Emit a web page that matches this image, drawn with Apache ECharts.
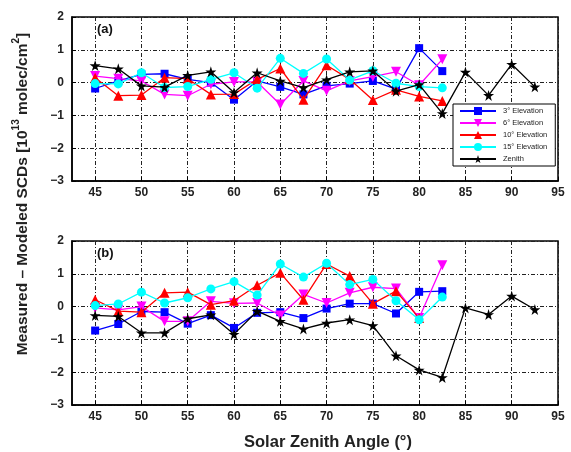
<!DOCTYPE html>
<html>
<head>
<meta charset="utf-8">
<script src="https://cdn.jsdelivr.net/npm/echarts@6/dist/echarts.min.js"></script>
<style>
html,body{margin:0;padding:0;background:#fff;}
#c{width:571px;height:452px;}
</style>
</head>
<body>
<div id="c"></div>
<script>
// ---- data ----
const sza = [45,47.5,50,52.5,55,57.5,60,62.5,65,67.5,70,72.5,75,77.5,80,82.5];
const szaZenith = [45,47.5,50,52.5,55,57.5,60,62.5,65,67.5,70,72.5,75,77.5,80,82.5,85,87.5,90,92.5];
const xTicks = [45,50,55,60,65,70,75,80,85,90,95];
const yTicks = [-3,-2,-1,0,1,2];
const seriesNames = ['3° Elevation','6° Elevation','10° Elevation','15° Elevation','Zenith'];

// panel (a)
const elev3a  = [-0.18, 0.05, 0.25, 0.27, 0.10, 0.00, -0.52, 0.05, -0.13, -0.36, -0.10, -0.03, 0.05, -0.20, 1.05, 0.35];
const elev6a  = [0.20, 0.12, 0.05, -0.36, -0.40, -0.05, 0.02, 0.02, -0.67, 0.05, -0.25, 0.05, 0.18, 0.33, -0.08, 0.71];
const elev10a = [0.15, -0.40, -0.38, 0.15, 0.12, -0.36, -0.35, 0.10, 0.43, -0.52, 0.53, 0.10, -0.53, -0.22, -0.42, -0.56];
const elev15a = [-0.03, -0.04, 0.30, -0.15, -0.12, 0.10, 0.30, -0.17, 0.74, 0.28, 0.72, 0.08, 0.36, -0.02, -0.12, -0.16];
const zenithA = [0.52, 0.42, -0.10, -0.14, 0.22, 0.33, -0.30, 0.30, 0.05, -0.15, 0.09, 0.33, 0.36, -0.26, -0.06, -0.94, 0.32, -0.39, 0.56, -0.13];

// panel (b)
const elev3b  = [-0.73, -0.53, -0.15, -0.17, -0.52, -0.26, -0.65, -0.19, -0.17, -0.35, -0.06, 0.09, 0.09, -0.21, 0.45, 0.47];
const elev6b  = [-0.04, -0.10, 0.00, -0.45, -0.45, 0.16, 0.10, 0.11, -0.27, 0.37, 0.11, 0.42, 0.59, 0.55, -0.35, 1.26];
const elev10b = [0.21, -0.14, -0.17, 0.42, 0.44, 0.06, 0.18, 0.65, 1.03, 0.21, 1.30, 0.93, 0.09, 0.47, -0.35, null];
const elev15b = [0.03, 0.08, 0.44, 0.11, 0.27, 0.54, 0.76, 0.35, 1.30, 0.90, 1.32, 0.67, 0.83, 0.18, -0.40, 0.29];
const zenithB = [-0.27, -0.30, -0.80, -0.80, -0.37, -0.25, -0.84, -0.14, -0.45, -0.68, -0.50, -0.40, -0.58, -1.50, -1.93, -2.16, -0.04, -0.24, 0.32, -0.09];

// ---- styles ----
const FONT = '"Liberation Sans", Arial, sans-serif';
const colors = ['#0000ff','#ff00ff','#ff0000','#00ffff','#000000'];
const STAR = 'path://M50,0 L61,35 L98,35 L68,57 L79,91 L50,70 L21,91 L32,57 L2,35 L39,35 Z';
const symbols = ['rect','triangle','triangle','circle',STAR];
const symRot = [0,180,0,0,0];
const symSize = [8,10,10,9,11];

function pair(xs, ys){ return ys.map((v,i)=>[xs[i], v]); }

const gridLine = {show:true, lineStyle:{color:'#222', width:1, type:[4,2,1,2]}};

function xAxis(gi){
  return {
    type:'value', gridIndex:gi, min:42.5, max:95,
    axisLine:{show:true, onZero:false, lineStyle:{color:'#000', width:1.5}},
    axisTick:{show:true, inside:true, length:4, customValues:xTicks, lineStyle:{color:'#000'}},
    axisLabel:{customValues:xTicks, color:'#222', fontFamily:FONT, fontSize:12, fontWeight:'bold', margin:6},
    splitLine:gridLine
  };
}
function yAxis(gi){
  return {
    type:'value', gridIndex:gi, min:-3, max:2, interval:1,
    axisLine:{show:true, onZero:false, lineStyle:{color:'#000', width:1.5}},
    axisTick:{show:true, inside:true, length:4, lineStyle:{color:'#000'}},
    axisLabel:{color:'#222', fontFamily:FONT, fontSize:12, fontWeight:'bold', margin:8,
      formatter:v=>String(v).replace('-','\u2212')},
    splitLine:gridLine
  };
}

const panelA = [elev3a, elev6a, elev10a, elev15a, zenithA];
const panelB = [elev3b, elev6b, elev10b, elev15b, zenithB];
const series = [];
[panelA, panelB].forEach((panel, gi)=>{
  panel.forEach((ys, k)=>{
    const xs = k===4 ? szaZenith : sza;
    series.push({
      type:'line', name:seriesNames[k], xAxisIndex:gi, yAxisIndex:gi,
      data:pair(xs, ys),
      symbol:symbols[k], symbolRotate:symRot[k], symbolSize:symSize[k],
      showAllSymbol:true, connectNulls:false,
      lineStyle:{color:colors[k], width:1.3},
      itemStyle:{color:colors[k], borderWidth:0},
      animation:false, z:2+k
    });
  });
});

const chart = echarts.init(document.getElementById('c'), null, {renderer:'canvas'});
chart.setOption({
  backgroundColor:'#fff',
  animation:false,
  grid:[
    {left:72, right:13, top:17, height:164, show:true, borderColor:'#000', borderWidth:1.5, backgroundColor:'transparent'},
    {left:72, right:13, top:241, height:164, show:true, borderColor:'#000', borderWidth:1.5, backgroundColor:'transparent'}
  ],
  xAxis:[xAxis(0), xAxis(1)],
  yAxis:[yAxis(0), yAxis(1)],
  legend:{
    data:seriesNames, orient:'vertical', left:453, top:104,
    backgroundColor:'#fff', borderColor:'#000', borderWidth:1,
    padding:[3,8,3,6], itemGap:4, itemWidth:36, itemHeight:10,
    textStyle:{fontFamily:FONT, fontSize:7.5, color:'#222', padding:[0,0,0,2]},
    z:20
  },
  graphic:[
    {type:'text', left:97, top:23, style:{text:'(a)', font:'bold 13px '+FONT, fill:'#111'}, z:30},
    {type:'text', left:97, top:247, style:{text:'(b)', font:'bold 13px '+FONT, fill:'#111'}, z:30},
    {type:'text', x:328, y:442, style:{text:'Solar Zenith Angle (°)', font:'bold 16.5px '+FONT, fill:'#222', align:'center', verticalAlign:'middle'}, z:30},
    {type:'text', x:21, y:194, rotation:Math.PI/2,
      style:{
        text:'{a|Measured \u2013 Modeled SCDs [10}{s|13}{a| molec/cm}{s|2}{a|]}',
        align:'center', verticalAlign:'middle', fill:'#222',
        rich:{
          a:{fontFamily:FONT, fontSize:15.5, fontWeight:'bold', fill:'#222', lineHeight:20, verticalAlign:'bottom'},
          s:{fontFamily:FONT, fontSize:10, fontWeight:'bold', fill:'#222', lineHeight:20, verticalAlign:'top'}
        }
      }, z:30}
  ],
  series:series
});
</script>
</body>
</html>
